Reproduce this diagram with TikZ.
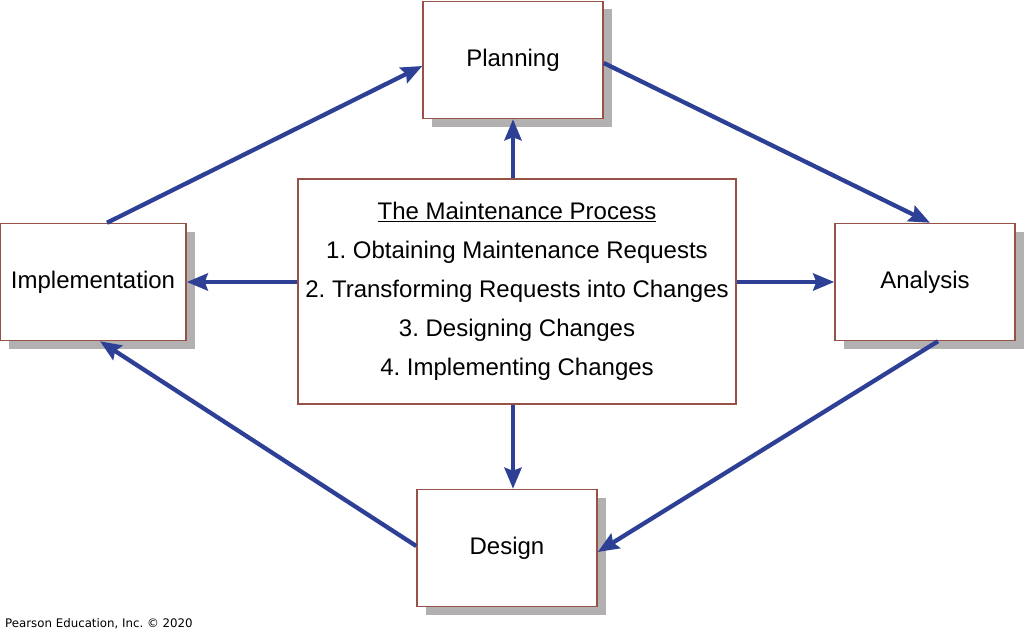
\documentclass[tikz,border=0pt]{standalone}
\usepackage{fontspec}
\setmainfont{Liberation Sans}
\newfontfamily\footfont{DejaVu Sans}
\usetikzlibrary{arrows.meta,shadows}
\frenchspacing
\definecolor{arrowblue}{RGB}{45,64,150}
\definecolor{boxline}{RGB}{150,82,70}
\definecolor{shadowgray}{RGB}{178,176,176}
\tikzset{
  box/.style={draw=boxline, line width=1.5pt, fill=white, minimum width=180pt,
    minimum height=117pt, font=\fontsize{24}{28}\selectfont,
    drop shadow={shadow xshift=9pt, shadow yshift=-8pt, fill=shadowgray, opacity=1}},
  flow/.style={draw=arrowblue, line width=4.3pt,
    -{Stealth[length=21pt, width=17pt, inset=3pt]}}
}
\begin{document}
\begin{tikzpicture}[x=1pt,y=-1pt]
      \useasboundingbox (0,0) rectangle (1024,634);
      \draw
        (513,60) node[box] (plan){Planning}
        (925,282) node[box] (ana){Analysis}
        (507,548) node[box] (des){Design}
        (93,282) node[box, minimum width=186pt] (impl){Implementation};
      \node[draw=boxline, line width=1.5pt, fill=white, minimum width=438pt,
        minimum height=225pt, align=center, font=\fontsize{24}{39}\selectfont]
        (proc) at (517,291.5) {\underline{The Maintenance Process}\\
        1. Obtaining Maintenance Requests\\
        2. Transforming Requests into Changes\\
        3. Designing Changes\\
        4. Implementing Changes};
      \node[anchor=base west, inner sep=0pt, font=\footfont\fontsize{11.8}{14}\selectfont]
        (credit) at (5,627) {Pearson Education, Inc. © 2020};
      \begin{scope}[flow]
        \draw ([xshift=14pt]impl.north) to ([yshift=-6pt]plan.west);
        \draw ([yshift=-3pt]plan.east) to ([xshift=5pt]ana.north);
        \draw ([xshift=13pt]ana.south) to ([yshift=-4pt]des.east);
        \draw ([yshift=2pt]des.west) to ([xshift=7pt]impl.south);
        \draw (proc.north -| plan.south) to (plan.south);
        \draw (proc.west |- impl.east) to (impl.east);
        \draw (proc.east |- ana.west) to (ana.west);
        \draw (proc.south -| plan.south) to (des.north -| plan.south);
      \end{scope}
    \end{tikzpicture}
\end{document}
